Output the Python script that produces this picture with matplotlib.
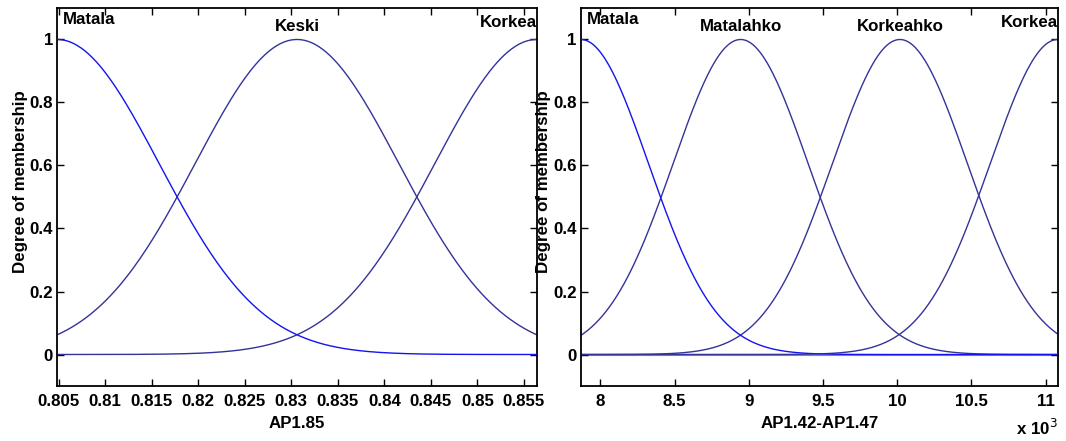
import numpy as np
import matplotlib
matplotlib.use("Agg")
import matplotlib.pyplot as plt

# ---- data (membership function parameters) ----
left_range = [0.80486, 0.85637]
left_names = ["Matala", "Keski", "Korkea"]
left_centers = [0.80486, 0.830615, 0.85637]
left_sigmas = [0.01094, 0.01094, 0.01094]
left_ticks = [0.805, 0.81, 0.815, 0.82, 0.825, 0.83, 0.835, 0.84, 0.845, 0.85, 0.855]
left_xlabel = "AP1.85"

right_range = [7869.6, 11081.0]
right_names = ["Matala", "Matalahko", "Korkeahko", "Korkea"]
right_centers = [7869.6, 8945.0, 10018.0, 11081.0]
right_sigmas = [454.6, 454.6, 454.6, 454.6]
right_ticks = [8000, 8500, 9000, 9500, 10000, 10500, 11000]
right_xlabel = "AP1.42-AP1.47"

y_ticks = [0, 0.2, 0.4, 0.6, 0.8, 1]
y_label = "Degree of membership"

plt.rcParams['font.family'] = ['Liberation Sans', 'DejaVu Sans']
FS = 12.2
FW = 'bold'

first_color = "#1414f0"
other_color = "#333399"

fig = plt.figure(figsize=(10.66, 4.41), dpi=100)
ax1 = fig.add_axes([0.05375, 0.1247, 0.50347 - 0.05375, 0.9819 - 0.1247])
ax2 = fig.add_axes([0.54503, 0.1247, 0.99221 - 0.54503, 0.9819 - 0.1247])


def gauss(x, c, s):
    return np.exp(-((x - c) ** 2) / (2 * s ** 2))


def draw(ax, rng, names, centers, sigmas, ticks, xlabel, fmt):
    x = np.linspace(rng[0], rng[1], 400)
    n = len(names)
    for i, (name, c, s) in enumerate(zip(names, centers, sigmas)):
        col = first_color if i == 0 else other_color
        ax.plot(x, gauss(x, c, s), color=col, lw=1.0, zorder=3 if i == 0 else 2)
        if i == 0:
            ax.text(rng[0] + 0.012 * (rng[1] - rng[0]), 1.062, name,
                    ha='left', va='center', fontsize=FS, fontweight=FW)
        elif i == n - 1:
            ax.text(rng[1], 1.055, name, ha='right', va='center',
                    fontsize=FS, fontweight=FW)
        else:
            ax.text(c, 1.04, name, ha='center', va='center',
                    fontsize=FS, fontweight=FW)
    ax.set_xlim(rng[0], rng[1])
    ax.set_ylim(-0.1, 1.1)
    ax.set_xticks(ticks)
    ax.set_xticklabels([fmt(t) for t in ticks], fontsize=FS, fontweight=FW)
    ax.set_yticks(y_ticks)
    ax.set_yticklabels(["%g" % t for t in y_ticks], fontsize=FS, fontweight=FW)
    ax.tick_params(direction='in', top=True, right=True, length=5, width=1)
    ax.tick_params(axis='x', pad=6)
    ax.tick_params(axis='y', pad=3)
    for sp in ax.spines.values():
        sp.set_linewidth(1.3)
    ax.set_xlabel(xlabel, fontsize=FS, fontweight=FW, labelpad=5)
    ax.set_ylabel(y_label, fontsize=FS, fontweight=FW)
    ax.yaxis.set_label_coords(-0.062, 0.54)


draw(ax1, left_range, left_names, left_centers, left_sigmas, left_ticks,
     left_xlabel, lambda t: "%g" % t)
draw(ax2, right_range, right_names, right_centers, right_sigmas, right_ticks,
     right_xlabel, lambda t: "%g" % (t / 1000.0))
ax2.axhline(0, color="#8080c0", lw=0.8, zorder=1)

fig.text(0.99221, 1 - 428 / 441, r"x 10$^{3}$", ha='right', va='center',
         fontsize=FS, fontweight=FW)

fig.savefig("out.png", dpi=100)
